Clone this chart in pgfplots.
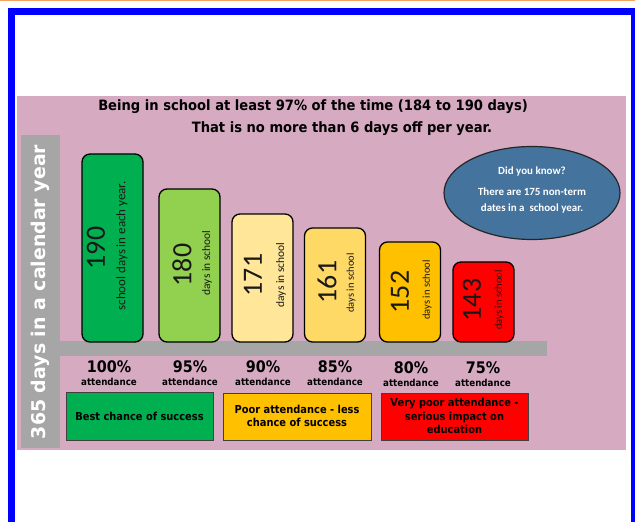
\documentclass[border=0pt]{standalone}
\usepackage{pgfplots}
\pgfplotsset{compat=1.18}
\usepackage{fontspec}
\setmainfont{Carlito}
\newfontfamily\tah[FakeStretch=0.9]{DejaVu Sans}
\newfontfamily\tahw[FakeStretch=0.92]{DejaVu Sans}
\newfontfamily\verd{DejaVu Sans}
\definecolor{pinkbg}{HTML}{D6AAC1}
\definecolor{greybar}{HTML}{A6A6A6}
\definecolor{borderblue}{HTML}{0000FF}
\definecolor{topline}{HTML}{F4A460}
\definecolor{cA}{HTML}{00B050}
\definecolor{cB}{HTML}{92D050}
\definecolor{cC}{HTML}{FFE699}
\definecolor{cD}{HTML}{FFD966}
\definecolor{cE}{HTML}{FFC000}
\definecolor{cF}{HTML}{FF0000}
\definecolor{ellblue}{HTML}{44739E}
\definecolor{boxedge}{HTML}{404040}
\begin{document}
\begin{tikzpicture}
\begin{axis}[
  x=1bp, y=1bp,
  xmin=0, xmax=635, ymin=-180, ymax=342,
  hide axis, clip=false,
  ybar, bar width=61,
  every axis plot/.append style={bar shift=0pt, draw=black, line width=1.3bp, rounded corners=8bp},
]
% page background and frame
\fill[white] (0,-180) rectangle (635,342);
\fill[topline] (0,340.5) rectangle (635,342);
\fill[borderblue] (8,-180) rectangle (635,334);
\fill[white] (15,-180) rectangle (631,327);
% pink panel
\fill[pinkbg] (17,-108) rectangle (626,246);
% grey axis bars
\fill[greybar] (21,-106) rectangle (60,207);
\fill[greybar] (60,1) rectangle (547,-14);

% bars: heights drawn as in the picture, labels give the days
\addplot[fill=cA] coordinates {(112.5,188)};
\addplot[fill=cB] coordinates {(189.5,153)};
\addplot[fill=cC] coordinates {(262.5,128)};
\addplot[fill=cD] coordinates {(335,114)};
\addplot[fill=cE] coordinates {(410,100)};
\addplot[fill=cF] coordinates {(483.5,80)};

% numbers in bars
\begin{scope}[every node/.style={rotate=90, text=black!90, inner sep=0pt}]
\node[font=\fontsize{28}{28}\selectfont] at (96,94) {190};
\node[font=\fontsize{13}{13}\selectfont] at (122,96) {school days in each year.};
\node[font=\fontsize{28}{28}\selectfont] at (182,77) {180};
\node[font=\fontsize{11.5}{11.5}\selectfont] at (207,79) {days in school};
\node[font=\fontsize{28}{28}\selectfont] at (253,67) {171};
\node[font=\fontsize{11.5}{11.5}\selectfont] at (281,67) {days in school};
\node[font=\fontsize{28}{28}\selectfont] at (327,60) {161};
\node[font=\fontsize{10.5}{10.5}\selectfont] at (351,59) {days in school};
\node[font=\fontsize{28}{28}\selectfont] at (400,50) {152};
\node[font=\fontsize{10.5}{10.5}\selectfont] at (427,52) {days in school};
\node[font=\fontsize{28}{28}\selectfont] at (472,42) {143};
\node[font=\fontsize{10.5}{10.5}\selectfont] at (499,42) {days in school};
\end{scope}

% vertical title
\node[rotate=90, text=white, font=\verd\bfseries\fontsize{19}{19}\selectfont, inner sep=0pt] at (40.5,50) {365 days in a calendar year};

% titles
\node[font=\tahw\bfseries\fontsize{14.3}{14.3}\selectfont, inner sep=0pt] at (313,235) {Being in school at least 97\% of the time (184 to 190 days)};
\node[font=\tahw\bfseries\fontsize{14.3}{14.3}\selectfont, inner sep=0pt] at (342,213) {That is no more than 6 days off per year.};

% percent labels
\begin{scope}[every node/.style={inner sep=0pt}]
\node[font=\tah\bfseries\fontsize{16}{16}\selectfont] at (109,-25) {100\%};
\node[font=\tah\bfseries\fontsize{16}{16}\selectfont] at (190,-25) {95\%};
\node[font=\tah\bfseries\fontsize{16}{16}\selectfont] at (263,-25) {90\%};
\node[font=\tah\bfseries\fontsize{16}{16}\selectfont] at (335,-25) {85\%};
\node[font=\tah\bfseries\fontsize{16}{16}\selectfont] at (411,-26) {80\%};
\node[font=\tah\bfseries\fontsize{16}{16}\selectfont] at (483,-26) {75\%};
\node[font=\tah\bfseries\fontsize{9.7}{9.7}\selectfont] at (109,-40) {attendance};
\node[font=\tah\bfseries\fontsize{9.7}{9.7}\selectfont] at (190,-40) {attendance};
\node[font=\tah\bfseries\fontsize{9.7}{9.7}\selectfont] at (263,-40) {attendance};
\node[font=\tah\bfseries\fontsize{9.7}{9.7}\selectfont] at (335,-40) {attendance};
\node[font=\tah\bfseries\fontsize{9.7}{9.7}\selectfont] at (411,-41) {attendance};
\node[font=\tah\bfseries\fontsize{9.7}{9.7}\selectfont] at (483,-41) {attendance};
\end{scope}

% legend boxes
\filldraw[fill=cA, draw=boxedge, line width=0.8bp] (66,-50) rectangle (213,-98);
\filldraw[fill=cE, draw=boxedge, line width=0.8bp] (223,-51) rectangle (371,-98);
\filldraw[fill=cF, draw=boxedge, line width=0.8bp] (381,-51) rectangle (528,-98);
\node[font=\tah\bfseries\fontsize{11}{13}\selectfont, align=center] at (139.5,-74) {Best chance of success};
\node[font=\tah\bfseries\fontsize{11}{13}\selectfont, align=center] at (297,-74) {Poor attendance - less\\chance of success};
\node[font=\tah\bfseries\fontsize{11}{13.5}\selectfont, align=center] at (454.5,-74) {Very poor attendance -\\serious impact on\\education};

% callout ellipse
\filldraw[fill=ellblue, draw=black!85, line width=1.2bp] (532,149) ellipse [x radius=88, y radius=46.5];
\node[text=white, font=\bfseries\fontsize{11}{11}\selectfont] at (532,170) {Did you know?};
\node[text=white, font=\bfseries\fontsize{11}{11}\selectfont] at (532,150) {There are 175 non-term};
\node[text=white, font=\bfseries\fontsize{11}{11}\selectfont] at (532,133) {dates in a\ \ school year.};
\end{axis}
\end{tikzpicture}
\end{document}
